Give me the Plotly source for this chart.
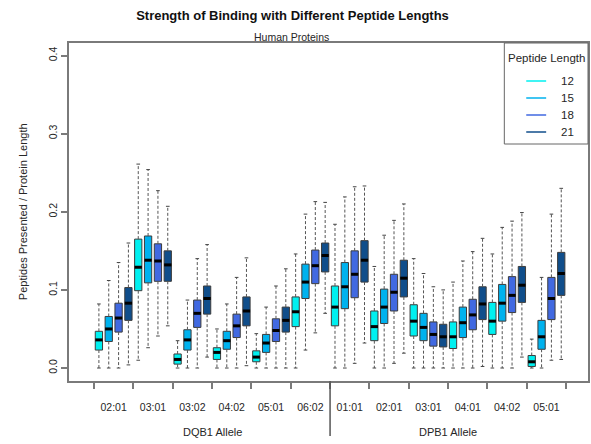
import plotly.graph_objects as go

# Alleles on the x axis (two loci) and peptide lengths drawn within each allele
DQB1_ALLELES = ["02:01", "03:01", "03:02", "04:02", "05:01", "06:02"]
DPB1_ALLELES = ["01:01", "02:01", "03:01", "04:01", "04:02", "05:01"]
PEPTIDE_LENGTHS = [12, 15, 18, 21]
COLORS = ["#00F0F0", "#00B2EE", "#4169E1", "#104E8B"]

# Box statistics, one value per box: allele by allele, lengths 12/15/18/21
LOWER = [
    0.000, 0.000, 0.000, 0.004,
    0.010, 0.026, 0.041, 0.054,
    0.000, 0.000, 0.000, 0.014,
    0.000, 0.000, 0.000, 0.003,
    0.000, 0.000, 0.000, 0.000,
    0.000, 0.023, 0.045, 0.070,
    0.000, 0.000, 0.006, 0.032,
    0.000, 0.000, 0.006, 0.019,
    0.000, 0.000, 0.000, 0.000,
    0.000, 0.000, 0.000, 0.002,
    0.000, 0.000, 0.000, 0.014,
    0.000, 0.000, 0.010, 0.011,
]
Q1 = [
    0.023, 0.034, 0.046, 0.061,
    0.099, 0.109, 0.111, 0.111,
    0.005, 0.023, 0.052, 0.069,
    0.011, 0.024, 0.039, 0.054,
    0.008, 0.020, 0.034, 0.046,
    0.053, 0.089, 0.108, 0.123,
    0.054, 0.076, 0.090, 0.110,
    0.035, 0.057, 0.073, 0.091,
    0.041, 0.035, 0.028, 0.027,
    0.025, 0.039, 0.049, 0.062,
    0.043, 0.060, 0.071, 0.084,
    0.002, 0.024, 0.062, 0.093,
]
MEDIAN = [
    0.036, 0.050, 0.064, 0.083,
    0.129, 0.138, 0.137, 0.132,
    0.011, 0.036, 0.070, 0.089,
    0.020, 0.035, 0.054, 0.073,
    0.014, 0.032, 0.048, 0.061,
    0.072, 0.110, 0.131, 0.144,
    0.078, 0.104, 0.120, 0.138,
    0.053, 0.078, 0.097, 0.115,
    0.060, 0.052, 0.043, 0.040,
    0.040, 0.058, 0.068, 0.082,
    0.060, 0.083, 0.093, 0.106,
    0.008, 0.040, 0.089, 0.121,
]
Q3 = [
    0.047, 0.066, 0.083, 0.103,
    0.165, 0.169, 0.159, 0.150,
    0.018, 0.049, 0.087, 0.105,
    0.026, 0.047, 0.069, 0.091,
    0.022, 0.043, 0.063, 0.078,
    0.091, 0.133, 0.151, 0.160,
    0.105, 0.135, 0.150, 0.163,
    0.073, 0.101, 0.120, 0.138,
    0.081, 0.070, 0.059, 0.056,
    0.059, 0.078, 0.088, 0.104,
    0.084, 0.107, 0.117, 0.130,
    0.016, 0.061, 0.116, 0.148,
]
UPPER = [
    0.082, 0.112, 0.135, 0.160,
    0.261, 0.254, 0.227, 0.207,
    0.035, 0.087, 0.140, 0.158,
    0.050, 0.082, 0.116, 0.141,
    0.044, 0.078, 0.105, 0.127,
    0.146, 0.197, 0.213, 0.212,
    0.184, 0.219, 0.232, 0.233,
    0.130, 0.170, 0.189, 0.210,
    0.140, 0.121, 0.104, 0.100,
    0.110, 0.137, 0.149, 0.166,
    0.146, 0.180, 0.188, 0.199,
    0.037, 0.116, 0.197, 0.230,
]
Y_TICKS = [0.0, 0.1, 0.2, 0.3, 0.4]

FONT = "Liberation Sans, Arial, Helvetica, sans-serif"
TEXT = "#262626"
FRAME = "#7a7a7a"

alleles = DQB1_ALLELES + DPB1_ALLELES
n_len = len(PEPTIDE_LENGTHS)
positions = list(range(1, len(MEDIAN) + 1))
BOX_W = 0.74
STAPLE = BOX_W / 4

fig = go.Figure()

# dashed whiskers from the box edges out to the whisker ends, plus their staples
wx, wy, sx, sy = [], [], [], []
for i, p in enumerate(positions):
    wx += [p, p, None, p, p, None]
    wy += [Q3[i], UPPER[i], None, Q1[i], LOWER[i], None]
    sx += [p - STAPLE, p + STAPLE, None, p - STAPLE, p + STAPLE, None]
    sy += [UPPER[i], UPPER[i], None, LOWER[i], LOWER[i], None]
fig.add_trace(go.Scatter(x=wx, y=wy, mode="lines", hoverinfo="skip", showlegend=False,
                         line=dict(color="#555555", width=1, dash="3px,2px")))
fig.add_trace(go.Scatter(x=sx, y=sy, mode="lines", hoverinfo="skip", showlegend=False,
                         line=dict(color="#444444", width=1)))

# interquartile boxes, one trace per peptide length
for j, (length, color) in enumerate(zip(PEPTIDE_LENGTHS, COLORS)):
    idx = [a * n_len + j for a in range(len(alleles))]
    fig.add_trace(go.Bar(
        x=[positions[i] for i in idx],
        y=[Q3[i] - Q1[i] for i in idx],
        base=[Q1[i] for i in idx],
        width=BOX_W,
        name=str(length),
        marker=dict(color=color, line=dict(color="#3c3c3c", width=1)),
        showlegend=False,
        hoverinfo="skip",
    ))

# medians
mx, my = [], []
for i, p in enumerate(positions):
    mx += [p - BOX_W / 2, p + BOX_W / 2, None]
    my += [MEDIAN[i], MEDIAN[i], None]
fig.add_trace(go.Scatter(x=mx, y=my, mode="lines", hoverinfo="skip", showlegend=False,
                         line=dict(color="black", width=3)))

# layout geometry in pixels
W, H = 591, 444
L, R, T, B = 69, 1, 43, 63
pw, ph = W - L - R, H - T - B


def px_x(x):
    return (x - L) / pw


def px_y(y):
    return (H - B - y) / ph


def label(text, x, y, xref="paper", size=11, xanchor="center", angle=0):
    return dict(text=text, x=x, y=y, xref=xref, yref="paper", showarrow=False,
                xanchor=xanchor, yanchor="middle", textangle=angle,
                font=dict(family=FONT, size=size, color=TEXT))


group_centers = [a * n_len + (n_len + 1) / 2 for a in range(len(alleles))]
group_edges = [a * n_len + 0.5 for a in range(len(alleles) + 1)]
split = len(DQB1_ALLELES) * n_len + 0.5

annotations = [
    label("Human Proteins", px_x(292.5), px_y(37), size=10.5),
    label("Peptides Presented / Protein Length", px_x(23), 0.5, angle=-90),
    label("DQB1 Allele", (group_edges[0] + split) / 2, px_y(432), xref="x"),
    label("DPB1 Allele", (split + group_edges[-1]) / 2, px_y(432), xref="x"),
    label("Peptide Length", px_x(548.5), px_y(58), size=11.5),
]
shapes = [
    dict(type="line", xref="x", yref="paper", x0=split, x1=split, y0=0, y1=px_y(436),
         line=dict(color="#555555", width=1.5)),
    dict(type="rect", xref="paper", yref="paper", x0=px_x(506), x1=1, y0=px_y(144), y1=1,
         line=dict(color="#666666", width=1), fillcolor="white", layer="above"),
]
for k, (length, color) in enumerate(zip(PEPTIDE_LENGTHS, COLORS)):
    yy = px_y(81 + 17 * k)
    shapes.append(dict(type="line", xref="paper", yref="paper", x0=px_x(528), x1=px_x(548),
                       y0=yy, y1=yy, line=dict(color=color, width=1.5), layer="above"))
    annotations.append(label(str(length), px_x(561), yy, size=11.5, xanchor="left"))

fig.update_layout(
    width=W, height=H,
    margin=dict(l=L, r=R, t=T, b=B),
    paper_bgcolor="white", plot_bgcolor="white",
    barmode="overlay",
    showlegend=False,
    title=dict(text="<b>Strength of Binding with Different Peptide Lengths</b>",
               x=292.5 / W, xanchor="center", y=1 - 15 / H, yanchor="middle",
               font=dict(family=FONT, size=13, color="#111111")),
    font=dict(family=FONT, color=TEXT),
    annotations=annotations,
    shapes=shapes,
)
fig.update_xaxes(
    range=[-2.04, 50.72],
    tickmode="array", tickvals=group_centers, ticktext=alleles,
    ticks="", ticklabelstandoff=16,
    tickfont=dict(family=FONT, size=10.5, color=TEXT),
    minor=dict(tickmode="array", tickvals=group_edges, ticks="outside", ticklen=6,
               tickwidth=1.5, tickcolor=FRAME),
    showline=True, linecolor=FRAME, linewidth=1.5, mirror=True,
    showgrid=False, zeroline=False,
)
fig.update_yaxes(
    range=[-0.0166, 0.416],
    tickmode="array", tickvals=Y_TICKS, ticktext=[f"{v:.1f}" for v in Y_TICKS],
    tickangle=-90, ticks="outside", ticklen=6, tickwidth=1.5, tickcolor=FRAME,
    tickfont=dict(family=FONT, size=10.5, color=TEXT),
    showline=True, linecolor=FRAME, linewidth=1.5, mirror=True,
    showgrid=False, zeroline=False,
)

fig.write_html("out.html")
